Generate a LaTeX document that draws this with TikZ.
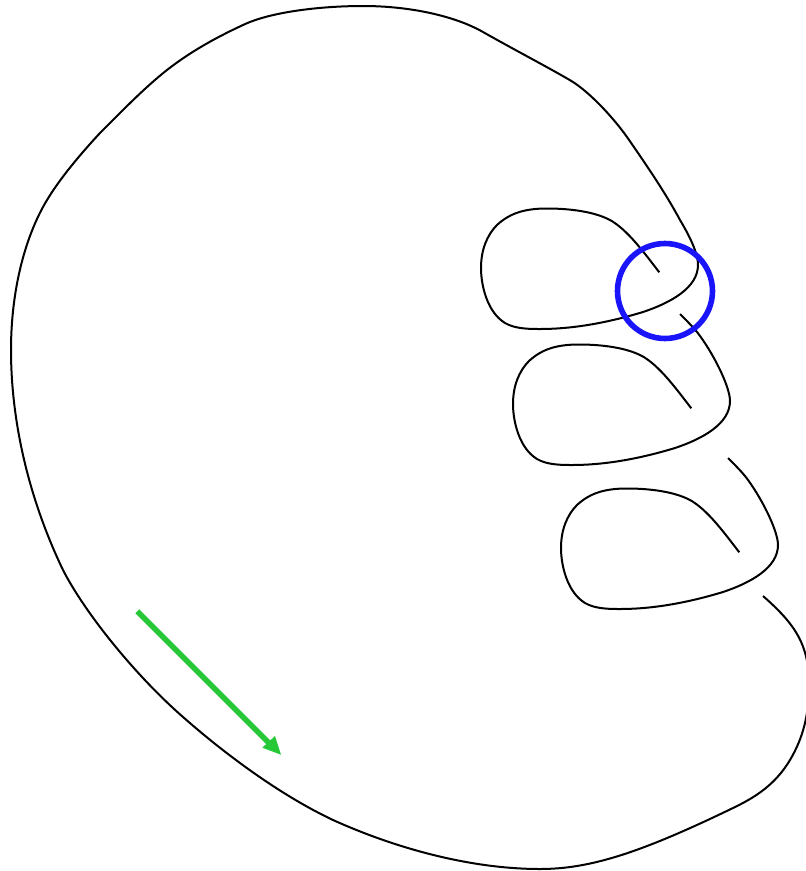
\documentclass[tikz,border=0pt]{standalone}
\definecolor{ringblue}{RGB}{26,20,250}
\definecolor{arrowgreen}{RGB}{38,200,56}
\tikzset{curveline/.style={black,line width=2pt,line cap=butt,line join=round},
ringline/.style={draw=ringblue,line width=5.6pt},
arrowline/.style={draw=arrowgreen,line width=5.4pt},
arrowhd/.style={fill=arrowgreen}}
\newcommand{\lobepath}{(659.3,272.3) .. controls (645,254) and (628,230) .. (610,220)
 .. controls (592,210.5) and (565,208.5) .. (547,208.5)
 .. controls (525,208.5) and (510,213) .. (497,225)
 .. controls (487,235) and (481,250) .. (481,268)
 .. controls (481,285) and (487,312) .. (505,323)
 .. controls (515,329) and (530,329) .. (540,329)
 .. controls (575,329) and (610,322) .. (643,312)
 .. controls (670,303) and (698,288) .. (698,265)}
\begin{document}
\begin{tikzpicture}[x=1pt,y=-1pt]
\useasboundingbox (0,0) rectangle (806,871);
\clip (0,0) rectangle (806,871);
\draw[curveline] \lobepath
 .. controls (698,255) and (692,240) .. (680,220)
 .. controls (665,192) and (645,163) .. (627,137)
 .. controls (612,116) and (590,93) .. (573,82)
 .. controls (555,71) and (512,48.5) .. (483,32)
 .. controls (455,16) and (410,6) .. (363,6)
 .. controls (320,6) and (270,12) .. (243,25)
 .. controls (215,38) and (190,52) .. (167,70)
 .. controls (145,87.2) and (120,113) .. (100,133)
 .. controls (75,160) and (55,185) .. (43,207)
 .. controls (25,240) and (11,290) .. (11,350)
 .. controls (11,420) and (28,497) .. (63,570)
 .. controls (85,613) and (135,675) .. (183,717)
 .. controls (225,754) and (280,795) .. (333,820)
 .. controls (395,848) and (470,869) .. (540,869)
 .. controls (590,869) and (640,853) .. (733,808)
 .. controls (755,797.4) and (775,785) .. (790,760)
 .. controls (803,738) and (809,715) .. (809,685)
 .. controls (809,645) and (796,625) .. (763,596);
\begin{scope}[shift={(32,136)}]
\draw[curveline] \lobepath
 .. controls (698,250) and (680,215) .. (665,196)
 .. controls (660,190) and (655,185) .. (648,178);
\end{scope}
\begin{scope}[shift={(80,280)}]
\draw[curveline] \lobepath
 .. controls (698,250) and (680,215) .. (665,196)
 .. controls (660,190) and (655,185) .. (648,178);
\end{scope}
\draw[ringline] (665,291) circle (47.5);
\coordinate (as) at (137.3,611.3);
\coordinate (ae) at (281,754.7);
\draw[arrowline] (as) -- (269,743);
\fill[arrowhd] (ae) -- (262.3,747.7) -- (275,736) -- cycle;
\end{tikzpicture}
\end{document}
